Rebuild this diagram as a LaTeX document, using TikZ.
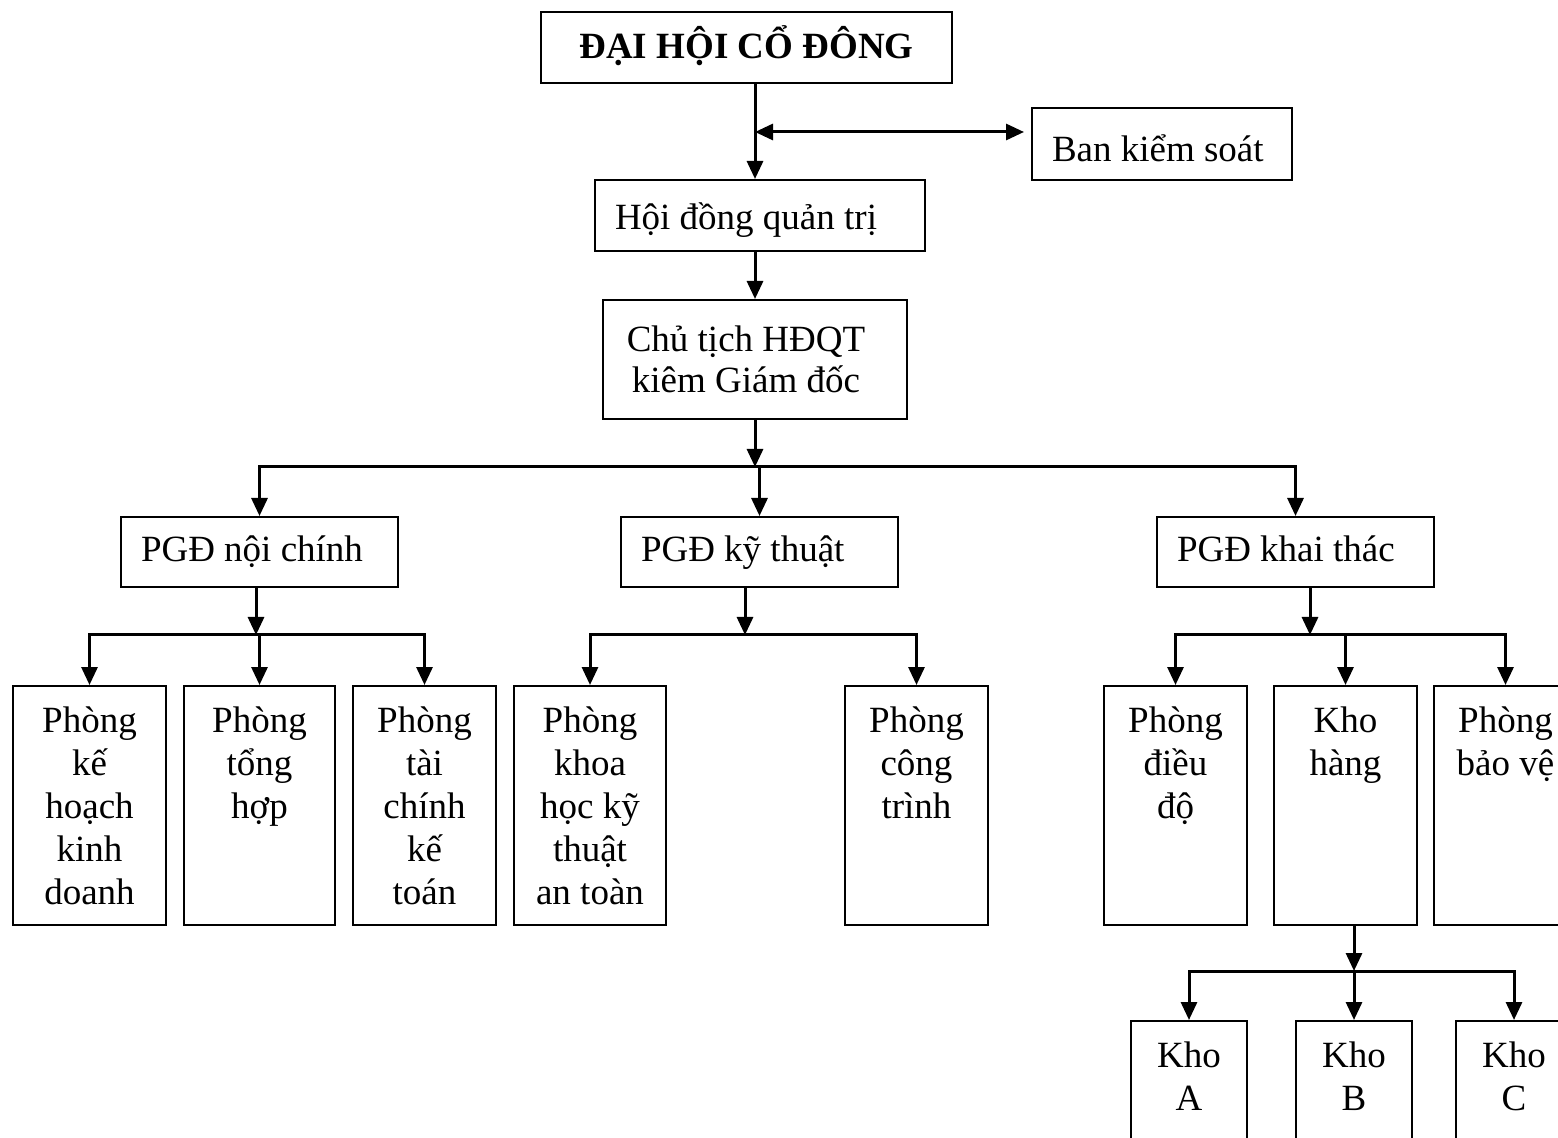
\documentclass[tikz,border=0pt]{standalone}
\usepackage{fontspec}
\setmainfont{Liberation Serif}
\usetikzlibrary{arrows.meta}
\newlength{\px}
\setlength{\px}{0.5pt}
\newcommand*{\LeftText}[2]{\makebox[#1\px][l]{\hspace{20\px}#2}}
\newcommand*{\DeptBoxes}[1]{% #1 = list of name/x/top/width/height/text
  \foreach \name/\x/\y/\w/\h/\txt in {#1} {
    \node [tallbox] (\name) at (\x,\y)
      {\parbox[c][\h\px][t]{\w\px}{\centering\rule{0pt}{23pt}\txt}};
    }%
}
\tikzset{
  box/.style={draw, line width=1pt, inner sep=0pt, font=\fontsize{18.5}{21.5}\selectfont},
  boxsize/.style 2 args={minimum width=#1*0.5pt, minimum height=#2*0.5pt},
  lift/.style 2 args={text height=#1, text depth=#2},
  tallbox/.style={box, anchor=north},
  link/.style={line width=1.5pt},
  tip/.tip={Triangle[length=9pt,width=8pt]},
  arr/.style={link, -tip},
}

\begin{document}
\begin{tikzpicture}[x=0.5pt,y=-0.5pt]
    \useasboundingbox (0,0) rectangle (1558,1138);

    \node [box, boxsize={411}{71}, lift={14pt}{2.5pt}, font=\fontsize{18.5}{21.5}\selectfont\bfseries]
      (dhcd) at (746.5,47.5) {ĐẠI HỘI CỔ ĐÔNG};
    \node [box, boxsize={260}{72}, lift={20pt}{2pt}] (bks) at (1162,144)
      {\LeftText{260}{Ban kiểm soát}};
    \node [box, boxsize={330}{71}, lift={17pt}{2.5pt}] (hdqt) at (760,215.5)
      {\LeftText{330}{Hội đồng quản trị}};
    \node [box, boxsize={304}{119}, align=center,
      font=\fontsize{18.5}{20.7}\selectfont] (ctich) at (755,359.5)
      {\hspace*{-18\px}Chủ tịch HĐQT\\\hspace*{-18\px}kiêm Giám đốc};

    \node [box, boxsize={277}{70}, lift={13pt}{3pt}] (pgd1) at (259.5,552)
      {\LeftText{277}{PGĐ nội chính}};
    \node [box, boxsize={277}{70}, lift={13pt}{3pt}] (pgd2) at (759.5,552)
      {\LeftText{277}{PGĐ kỹ thuật}};
    \node [box, boxsize={277}{70}, lift={13pt}{3pt}] (pgd3) at (1295.5,552)
      {\LeftText{277}{PGĐ khai thác}};

    \DeptBoxes{
        r1/89.5/685/153/239/Phòng\\kế\\hoạch\\kinh\\doanh,
        r2/259.5/685/151/239/Phòng\\tổng\\hợp,
        r3/424.5/685/143/239/Phòng\\tài\\chính\\kế\\toán,
        r4/590/685/152/239/Phòng\\khoa\\học kỹ\\thuật\\an toàn,
        r5/916.5/685/143/239/Phòng\\công\\trình,
        r6/1175.5/685/143/239/Phòng\\điều\\độ,
        r7/1345.5/685/143/239/Kho\\hàng,
        r8/1505.5/685/143/239/Phòng\\bảo vệ,
        k1/1189/1020/116/170/Kho\\A,
        k2/1354/1020/116/170/Kho\\B,
        k3/1514/1020/116/170/Kho\\C
    }

    \coordinate (j0) at (755,132);
    \draw [arr] (j0 |- dhcd.south) -- (j0 |- hdqt.north);
    \draw [link, tip-tip, shorten >=3.5pt] (j0) -- (j0 -| bks.west);
    \draw [arr] (j0 |- hdqt.south) -- (j0 |- ctich.north);

    \coordinate (b1) at (755,467);
    \draw [arr] (ctich.south) -- (b1);
    \foreach \n in {pgd1,pgd2,pgd3} \draw [arr] (b1) -| (\n.north);

    \coordinate (b2) at (256,635);
    \draw [arr] (b2 |- pgd1.south) -- (b2);
    \foreach \n in {r1,r2,r3} \draw [arr] (b2) -| (\n.north);

    \coordinate (b3) at (745,635);
    \draw [arr] (b3 |- pgd2.south) -- (b3);
    \foreach \n in {r4,r5} \draw [arr] (b3) -| (\n.north);

    \coordinate (b4) at (1310,635);
    \draw [arr] (b4 |- pgd3.south) -- (b4);
    \foreach \n in {r6,r7,r8} \draw [arr] (b4) -| (\n.north);

    \coordinate (b5) at (1354,971);
    \draw [arr] (b5 |- r7.south) -- (b5);
    \foreach \n in {k1,k2,k3} \draw [arr] (b5) -| (\n.north);
\end{tikzpicture}
\end{document}
